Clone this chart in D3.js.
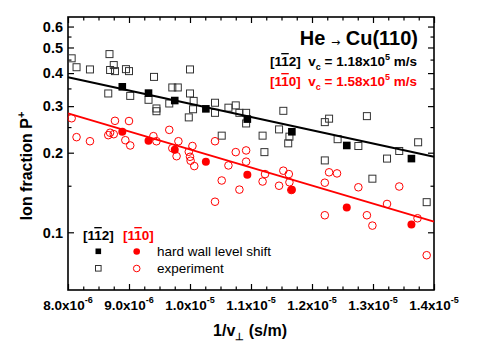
<!DOCTYPE html>
<html lang="en">
<head>
<meta charset="UTF-8">
<title>He on Cu(110) ion fraction</title>
<style>
  body { margin: 0; background: #fff; }
  text { font-family: Arial, "Liberation Sans", sans-serif; }
  .bold { font-weight: bold; }
  .ob { text-decoration: overline; }
</style>
</head>
<body>
<svg id="chart" width="491" height="351"></svg>
<script src="https://d3js.org/d3.v7.min.js"></script>
<script>
// 1/v_perp values are in units of 1e-6 s/m

// hard wall level shift (filled symbols), same 1/v for both azimuths
const hwInvV = [8.89, 9.32, 9.75, 10.26, 10.94, 11.67, 12.57, 13.63];
const hwP112 = [0.355, 0.336, 0.315, 0.293, 0.268, 0.240, 0.213, 0.190];
const hwP110 = [0.240, 0.222, 0.205, 0.185, 0.165, 0.145, 0.124, 0.107];

// experiment [1-12] (open squares)
const expInvV112 = [8.06, 8.14, 8.36, 8.68, 8.75, 8.69, 8.77, 8.95, 9.00, 8.66,
  9.02, 9.41, 9.32, 9.45, 9.45, 9.66, 9.71, 9.80, 10.00, 10.00,
  10.06, 10.05, 9.98, 10.41, 10.41, 10.63, 10.75, 10.81, 10.92, 10.92,
  10.52, 11.19, 11.53, 11.46, 11.63, 11.61, 11.22, 12.21, 12.28, 12.90,
  12.42, 12.76, 12.21, 13.23, 13.43, 13.74, 12.99, 13.88];
const expP112 = [0.455, 0.421, 0.413, 0.472, 0.429, 0.411, 0.407, 0.414, 0.407, 0.335,
  0.328, 0.387, 0.317, 0.294, 0.287, 0.307, 0.353, 0.353, 0.413, 0.335,
  0.314, 0.292, 0.272, 0.309, 0.283, 0.296, 0.302, 0.283, 0.283, 0.258,
  0.232, 0.232, 0.288, 0.245, 0.230, 0.217, 0.201, 0.261, 0.269, 0.275,
  0.225, 0.212, 0.187, 0.190, 0.203, 0.219, 0.1595, 0.130];

// experiment [1-10] (open circles)
const expInvV110 = [8.06, 8.14, 8.36, 8.66, 8.69, 8.75, 8.77, 8.94, 9.00, 9.02,
  9.40, 9.45, 9.66, 9.71, 9.78, 9.81, 10.04, 9.98, 10.00, 10.01,
  10.07, 10.41, 10.75, 10.92, 10.92, 10.63, 10.52, 10.81, 10.41, 11.23,
  11.19, 11.46, 11.53, 11.62, 11.63, 11.66, 12.21, 12.28, 12.41, 12.76,
  12.21, 12.90, 12.99, 13.23, 13.43, 13.73, 13.88];
const expP110 = [0.270, 0.229, 0.221, 0.233, 0.238, 0.235, 0.264, 0.223, 0.2635, 0.213,
  0.231, 0.221, 0.244, 0.208, 0.194, 0.221, 0.212, 0.2017, 0.193, 0.1865,
  0.178, 0.221, 0.201, 0.204, 0.185, 0.179, 0.157, 0.145, 0.1305, 0.166,
  0.1556, 0.150, 0.171, 0.166, 0.1546, 0.1445, 0.154, 0.1686, 0.167, 0.148,
  0.116, 0.116, 0.106, 0.128, 0.149, 0.113, 0.0819];

// exponential fits (end points)
const fitInvV = [8, 14];
const fit112 = [0.3855, 0.193];
const fit110 = [0.2816, 0.1097];

const vcLabels = ["1.18", "1.58"];

// axis ticks
const xMajor = [8, 9, 10, 11, 12, 13, 14];
const xMajorMant = ["8.0", "9.0", "1.0", "1.1", "1.2", "1.3", "1.4"];
const xMajorExp = ["-6", "-6", "-5", "-5", "-5", "-5", "-5"];
const xMinor = d3.range(8, 14.01, 0.25).filter(v => Math.abs(v - Math.round(v)) > 0.01);
const yMajor = [0.1, 0.2, 0.3, 0.4, 0.5, 0.6];
const yMajorLabels = ["0.1", "0.2", "0.3", "0.4", "0.5", "0.6"];
const yMinor = [0.15, 0.25, 0.35, 0.45, 0.55];

const red = "#ff0000";
const svg = d3.select("#chart");

const plotL = 68, plotR = 434, plotT = 17, plotB = 290;
const x = d3.scaleLinear().domain([8, 14]).range([plotL, plotR]);
const y = d3.scaleLog().domain([0.0605, 0.652]).range([plotB, plotT]);

// axes (ticks pointing inward on all four sides)
function addAxis(axis, tx, ty) {
  const g = svg.append("g").attr("transform", `translate(${tx},${ty})`).call(axis);
  g.select(".domain").remove();
  g.selectAll("line").attr("stroke", "#000").attr("stroke-width", 1.2);
  g.selectAll("text").remove();
}
addAxis(d3.axisBottom(x).tickValues(xMajor).tickSizeInner(-6).tickSizeOuter(0), 0, plotB);
addAxis(d3.axisBottom(x).tickValues(xMinor).tickSizeInner(-3.5).tickSizeOuter(0), 0, plotB);
addAxis(d3.axisTop(x).tickValues(xMajor).tickSizeInner(-6).tickSizeOuter(0), 0, plotT);
addAxis(d3.axisTop(x).tickValues(xMinor).tickSizeInner(-3.5).tickSizeOuter(0), 0, plotT);
addAxis(d3.axisLeft(y).tickValues(yMajor).tickSizeInner(-6).tickSizeOuter(0), plotL, 0);
addAxis(d3.axisLeft(y).tickValues(yMinor).tickSizeInner(-3.5).tickSizeOuter(0), plotL, 0);
addAxis(d3.axisRight(y).tickValues(yMajor).tickSizeInner(-6).tickSizeOuter(0), plotR, 0);
addAxis(d3.axisRight(y).tickValues(yMinor).tickSizeInner(-3.5).tickSizeOuter(0), plotR, 0);

svg.append("rect")
  .attr("x", plotL).attr("y", plotT)
  .attr("width", plotR - plotL).attr("height", plotB - plotT)
  .attr("fill", "none").attr("stroke", "#000").attr("stroke-width", 1.6);

// x tick labels with superscripts
const xl = svg.append("g").selectAll("text")
  .data(xMajor)
  .join("text")
  .attr("class", "bold")
  .attr("x", d => x(d))
  .attr("y", 310)
  .attr("text-anchor", "middle")
  .attr("font-size", 13.5);
xl.append("tspan").text((d, i) => xMajorMant[i] + "x10");
xl.append("tspan").attr("font-size", 9).attr("dy", -7).text((d, i) => xMajorExp[i]);

// y tick labels
svg.append("g").selectAll("text")
  .data(yMajor)
  .join("text")
  .attr("class", "bold")
  .attr("x", 63)
  .attr("y", d => y(d))
  .attr("dy", "0.36em")
  .attr("text-anchor", "end")
  .attr("font-size", 14.5)
  .text((d, i) => yMajorLabels[i]);

// axis titles
const yt = svg.append("text")
  .attr("class", "bold")
  .attr("transform", "translate(32,166) rotate(-90)")
  .attr("text-anchor", "middle")
  .attr("font-size", 16);
yt.append("tspan").text("Ion fraction P");
yt.append("tspan").attr("font-size", 11).attr("dy", -7).text("+");

const xt = svg.append("text")
  .attr("class", "bold")
  .attr("x", 250).attr("y", 336)
  .attr("text-anchor", "middle")
  .attr("font-size", 16);
xt.append("tspan").text("1/v");
xt.append("tspan").attr("font-size", 10).attr("dy", 4).text("⊥");
xt.append("tspan").attr("dy", -4).text(" (s/m)");

// data: open markers
svg.append("g").selectAll("rect")
  .data(expInvV112)
  .join("rect")
  .attr("x", (d, i) => x(d) - 3.5)
  .attr("y", (d, i) => y(expP112[i]) - 3.5)
  .attr("width", 7).attr("height", 7)
  .attr("fill", "none").attr("stroke", "#333").attr("stroke-width", 1);

svg.append("g").selectAll("circle")
  .data(expInvV110)
  .join("circle")
  .attr("cx", d => x(d))
  .attr("cy", (d, i) => y(expP110[i]))
  .attr("r", 3.8)
  .attr("fill", "none").attr("stroke", red).attr("stroke-width", 1);

// fit lines
const line = d3.line().x(d => x(d[0])).y(d => y(d[1]));
svg.append("path")
  .attr("d", line(fitInvV.map((v, i) => [v, fit112[i]])))
  .attr("stroke", "#000").attr("stroke-width", 2).attr("fill", "none");
svg.append("path")
  .attr("d", line(fitInvV.map((v, i) => [v, fit110[i]])))
  .attr("stroke", red).attr("stroke-width", 2).attr("fill", "none");

// data: filled markers
svg.append("g").selectAll("rect")
  .data(hwInvV)
  .join("rect")
  .attr("x", d => x(d) - 3.8)
  .attr("y", (d, i) => y(hwP112[i]) - 3.8)
  .attr("width", 7.6).attr("height", 7.6)
  .attr("fill", "#000");

svg.append("g").selectAll("circle")
  .data(hwInvV)
  .join("circle")
  .attr("cx", d => x(d))
  .attr("cy", (d, i) => y(hwP110[i]))
  .attr("r", 4)
  .attr("fill", red);

// annotation, top right
svg.append("text")
  .attr("class", "bold")
  .attr("x", 418).attr("y", 45)
  .attr("text-anchor", "end")
  .attr("font-size", 20)
  .call(t => {
    t.append("tspan").text("He\u00a0");
    t.append("tspan").attr("font-size", 11).attr("font-weight", "normal")
      .attr("font-family", "'DejaVu Sans'").attr("dy", 1).text("→");
    t.append("tspan").attr("dy", -1).text("\u00a0Cu(110)");
  });

function vcLine(yPos, last, vc, color) {
  const t = svg.append("text")
    .attr("class", "bold")
    .attr("x", 417).attr("y", yPos)
    .attr("text-anchor", "end")
    .attr("font-size", 13.5)
    .attr("fill", color);
  t.append("tspan").text("[1");
  t.append("tspan").attr("class", "ob").text("1");
  t.append("tspan").text(last + "]\u00a0 v");
  t.append("tspan").attr("font-size", 9).attr("dy", 4).text("c");
  t.append("tspan").attr("dy", -4).text(" = " + vc + "x10");
  t.append("tspan").attr("font-size", 9).attr("dy", -6).text("5");
  t.append("tspan").attr("dy", 6).text(" m/s");
}
vcLine(66, "2", vcLabels[0], "#000");
vcLine(86, "0", vcLabels[1], red);

// legend
function azLabel(xPos, last, color) {
  const t = svg.append("text")
    .attr("class", "bold")
    .attr("x", xPos).attr("y", 240)
    .attr("font-size", 13.5)
    .attr("fill", color);
  t.append("tspan").text("[1");
  t.append("tspan").attr("class", "ob").text("1");
  t.append("tspan").text(last + "]");
}
azLabel(83, "2", "#000");
azLabel(123, "0", red);

svg.append("rect").attr("x", 95.5).attr("y", 248.5).attr("width", 5.6).attr("height", 5.6).attr("fill", "#000");
svg.append("circle").attr("cx", 136.7).attr("cy", 251.5).attr("r", 3.3).attr("fill", red);
svg.append("rect").attr("x", 95.5).attr("y", 265.5).attr("width", 5.6).attr("height", 5.6)
  .attr("fill", "none").attr("stroke", "#333").attr("stroke-width", 1);
svg.append("circle").attr("cx", 136.7).attr("cy", 268.5).attr("r", 3.3)
  .attr("fill", "none").attr("stroke", red).attr("stroke-width", 1);

svg.append("text").attr("x", 157).attr("y", 256).attr("font-size", 13.5).text("hard wall level shift");
svg.append("text").attr("x", 157).attr("y", 273).attr("font-size", 13.5).text("experiment");
</script>
</body>
</html>
